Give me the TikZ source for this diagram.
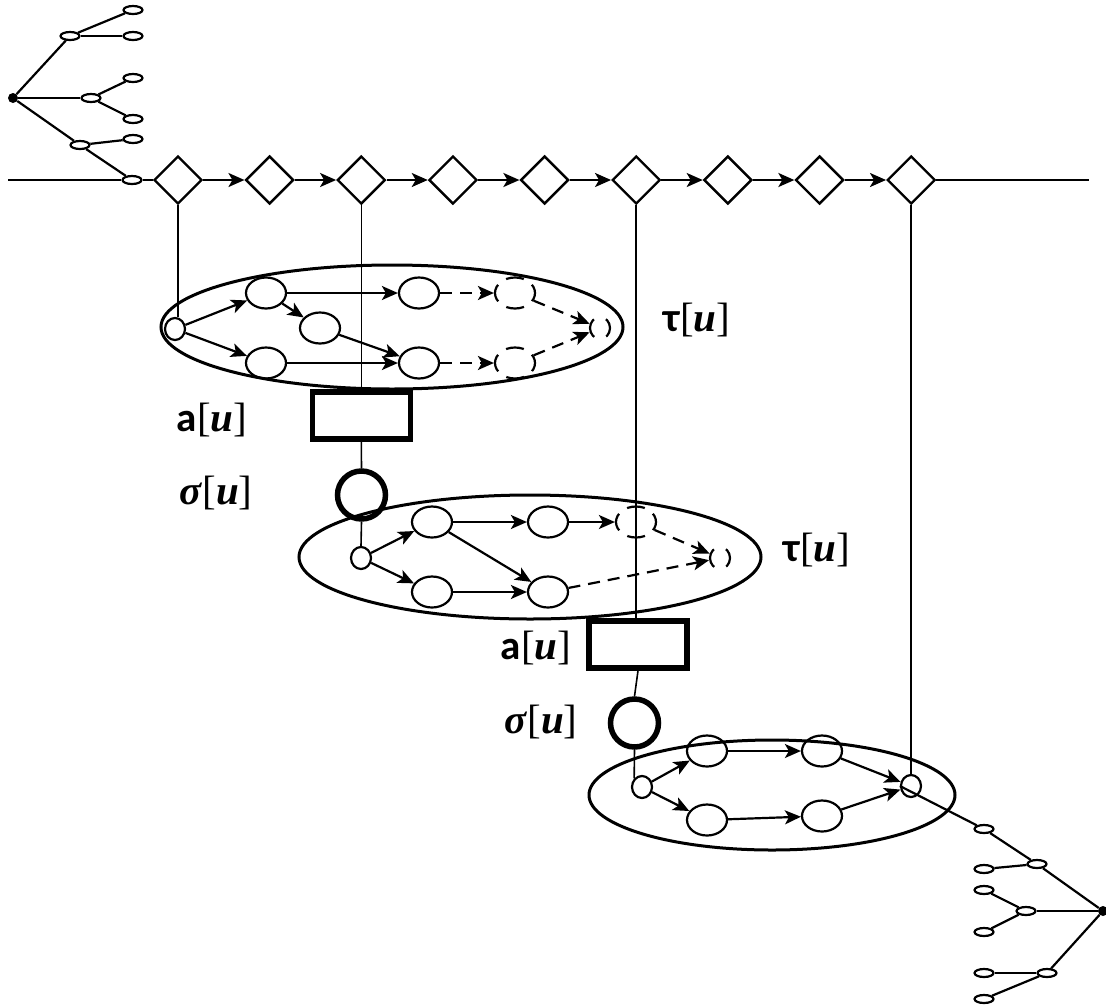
\documentclass[tikz,border=0pt]{standalone}
\usepackage{fontspec}
\setmainfont{Carlito}
\newfontfamily\serifm{Liberation Serif}
\usetikzlibrary{shapes.geometric,arrows.meta}
\newcommand{\ulbl}{{\serifm[\textbf{\textit{u}}]}}
\begin{document}
\begin{tikzpicture}[x=1pt,y=-1pt,
  leaf/.style={ellipse,draw,line width=2.2pt,minimum width=19pt,minimum height=8pt,inner sep=0pt},
  blackdot/.style={circle,fill,inner sep=0pt,minimum size=10pt},
  dia/.style={diamond,draw,line width=2.4pt,minimum width=48pt,minimum height=48pt,inner sep=0pt},
  startn/.style={ellipse,draw,line width=2.2pt,minimum width=20pt,minimum height=22pt,inner sep=0pt},
  stn/.style={ellipse,draw,line width=2.2pt,minimum width=40pt,minimum height=31pt,inner sep=0pt},
  dstn/.style={stn,dash pattern=on 18pt off 10pt,dash phase=9pt},
  dstartn/.style={startn,dash pattern=on 20pt off 13pt,dash phase=10pt},
  bigell/.style={ellipse,draw,line width=3pt,inner sep=0pt},
  thickbox/.style={rectangle,draw,line width=5.5pt,minimum width=98pt,minimum height=47pt,inner sep=0pt},
  ring/.style={circle,draw,line width=5.5pt,minimum size=48pt,inner sep=0pt},
  arr/.style={-{Stealth[length=16pt,width=14pt,inset=4pt]},line width=2.2pt},
  darr/.style={arr,dash pattern=on 12pt off 8pt},
  plain/.style={line width=2.2pt},
  vline/.style={line width=1.6pt},
  lbl/.style={font=\fontsize{41}{45}\selectfont,inner sep=0pt}
]
\useasboundingbox (0,0) rectangle (1106,1005);

% ---------- big ellipses ----------
\node[bigell,minimum width=462pt,minimum height=124pt] (E1) at (392,327) {};
\node[bigell,minimum width=462pt,minimum height=124pt] (E2) at (530,557) {};
\node[bigell,minimum width=366pt,minimum height=110pt] (E3) at (772,795) {};

% ---------- main chain ----------
\foreach \i in {1,...,9}{
  \node[dia] (d\i) at ({178+91.65*(\i-1)},180) {};
}
\foreach \i in {1,...,8}{
  \pgfmathtruncatemacro\j{\i+1}
  \draw[arr] (d\i.east) -- (d\j.west);
}
\coordinate (mlL) at (8,180);
\coordinate (mlR) at (1089,180);

% ---------- top-left tree ----------
\node[blackdot] (r1) at (13,98) {};
\node[leaf] (ta) at (70,36) {};
\node[leaf] (tb) at (91,98) {};
\node[leaf] (tc) at (80,145) {};
\node[leaf] (te) at (132,180) {};
\node[leaf] (ta1) at (133,10) {};
\node[leaf] (ta2) at (133,36) {};
\node[leaf] (tb1) at (133,78) {};
\node[leaf] (tb2) at (133,119) {};
\node[leaf] (tc1) at (133,139) {};
\draw[plain] (r1) -- (ta);
\draw[plain] (r1) -- (tb);
\draw[plain] (r1) -- (tc);
\draw[plain] (tc) -- (te);
\draw[plain] (ta) -- (ta1);
\draw[plain] (ta) -- (ta2);
\draw[plain] (tb) -- (tb1);
\draw[plain] (tb) -- (tb2);
\draw[plain] (tc) -- (tc1);
\draw[plain] (mlL) -- (te.west);
\draw[plain] (te.east) -- (d1.west);
\draw[plain] (d9.east) -- (mlR);

% ---------- ellipse 1 ----------
\node[startn] (s1) at (175,329) {};
\node[stn] (a1) at (266,293) {};
\node[stn] (b1) at (320,328) {};
\node[stn] (c1) at (266,363) {};
\node[stn] (e1d) at (419,293) {};
\node[stn] (e1e) at (419,363) {};
\node[dstn] (f1) at (515,293) {};
\node[dstn] (g1) at (515,363) {};
\node[dstartn] (h1) at (600,328) {};
\draw[arr] (s1) -- (a1);
\draw[arr] (s1) -- (c1);
\draw[arr] (a1) -- (b1);
\draw[arr] (a1) -- (e1d);
\draw[arr] (b1) -- (e1e);
\draw[arr] (c1) -- (e1e);
\draw[darr] (e1d) -- (f1);
\draw[darr] (e1e) -- (g1);
\draw[darr] (f1) -- (h1);
\draw[darr] (g1) -- (h1);

% ---------- block 1 ----------
\node[thickbox] (bx1) at (361.3,415.5) {};
\node[ring] (rg1) at (361.5,495) {};
\node[lbl] (la1) at (212,420) {{\bfseries a}\ulbl};
\node[lbl] (ls1) at (216,493) {{\serifm\textbf{\textit{σ}}}\ulbl};
\node[lbl] (lt1) at (697,320) {{\bfseries τ}\ulbl};

% ---------- ellipse 2 ----------
\node[startn] (s2) at (361,558) {};
\node[stn] (a2) at (432,522) {};
\node[stn] (c2) at (432,592) {};
\node[stn] (e2d) at (548,522) {};
\node[stn] (e2e) at (548,592) {};
\node[dstn] (f2) at (636,522) {};
\node[dstartn] (h2) at (720,558) {};
\draw[arr] (s2) -- (a2);
\draw[arr] (s2) -- (c2);
\draw[arr] (a2) -- (e2d);
\draw[arr] (a2) -- (e2e);
\draw[arr] (c2) -- (e2e);
\draw[arr] (e2d) -- (f2);
\draw[darr] (f2) -- (h2);
\draw[darr] (e2e) -- (h2);
\node[lbl] (lt2) at (817,550) {{\bfseries τ}\ulbl};

% ---------- block 2 ----------
\node[thickbox] (bx2) at (638,644.5) {};
\node[ring] (rg2) at (634.5,723) {};
\node[lbl] (la2) at (536,648) {{\bfseries a}\ulbl};
\node[lbl] (ls2) at (541,722) {{\serifm\textbf{\textit{σ}}}\ulbl};

% ---------- ellipse 3 ----------
\node[startn] (s3) at (642,787) {};
\node[stn] (a3) at (707,751) {};
\node[stn] (c3) at (707,820) {};
\node[stn] (e3d) at (822,751) {};
\node[stn] (e3e) at (822,816) {};
\node[startn] (h3) at (911,786) {};
\draw[arr] (s3) -- (a3);
\draw[arr] (s3) -- (c3);
\draw[arr] (a3) -- (e3d);
\draw[arr] (c3) -- (e3e);
\draw[arr] (e3d) -- (h3);
\draw[arr] (e3e) -- (h3);

% ---------- vertical links ----------
\draw[vline] (d1.south) -- (d1.south |- s1.north);
\draw[vline] (d3.south) -- (d3.south |- bx1.north);
\draw[vline] (d6.south) -- (d6.south |- bx2.north);
\draw[vline] (d9.south) -- (d9.south |- h3.north);
\draw[vline] (bx1.south) -- (rg1.north);
\draw[vline] (rg1.south) -- (s2.north);
\draw[vline] (bx2.south) -- (rg2.north);
\draw[vline] (rg2.south) -- (s3.north west);

% ---------- bottom-right tree ----------
\node[blackdot] (r2) at (1103,911) {};
\node[leaf] (bp) at (984,829) {};
\node[leaf] (bq) at (1037,864) {};
\node[leaf] (bq1) at (984,869) {};
\node[leaf] (bs) at (1026,911) {};
\node[leaf] (bs1) at (984,890) {};
\node[leaf] (bs2) at (984,932) {};
\node[leaf] (bt) at (1047,973) {};
\node[leaf] (bt1) at (984,973) {};
\node[leaf] (bt2) at (984,999) {};
\draw[plain] (bp) -- (h3.west);
\draw[plain] (bp) -- (bq);
\draw[plain] (bq) -- (r2);
\draw[plain] (bq) -- (bq1);
\draw[plain] (r2) -- (bs);
\draw[plain] (bs) -- (bs1);
\draw[plain] (bs) -- (bs2);
\draw[plain] (r2) -- (bt);
\draw[plain] (bt) -- (bt1);
\draw[plain] (bt) -- (bt2);
\end{tikzpicture}
\end{document}
